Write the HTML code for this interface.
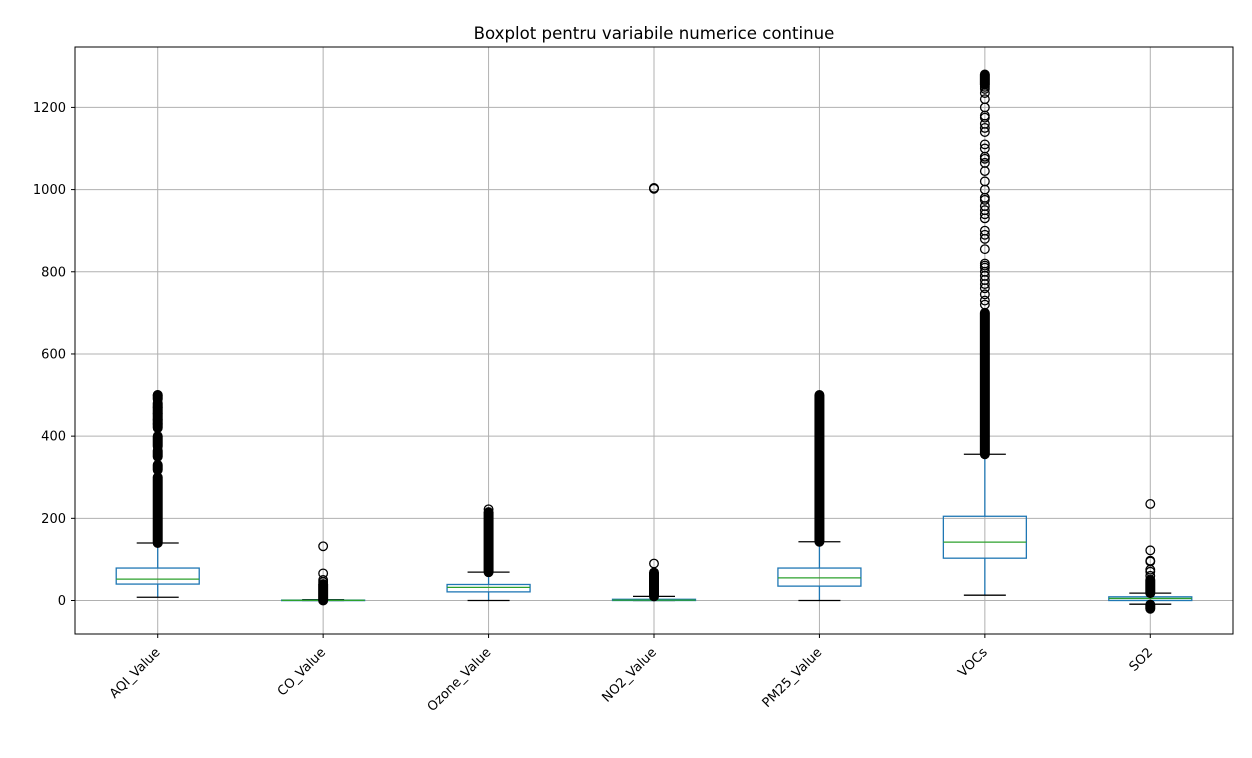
<!DOCTYPE html>
<html><head><meta charset="utf-8"><style>
body{margin:0;background:#fff;}
svg{display:block;font-family:"DejaVu Sans","Liberation Sans",sans-serif;}
</style></head><body>
<svg id="chart" width="1252" height="758"></svg>
<script>
const categories=["AQI_Value","CO_Value","Ozone_Value","NO2_Value","PM25_Value","VOCs","SO2"];
const q1=[40,0,21,0,35,103,0];
const medians=[52,0.5,32,1,55,142,5];
const q3=[79,1,39,3,79,205,9];
const whiskLow=[8,0,0,0,0,13,-9];
const whiskHigh=[140,2,69,10,143,356,18];
const denseOutliers=[
 [[140,300],[318,330],[350,365],[375,400],[420,480],[490,500]],
 [[0,40]],
 [[69,215]],
 [[10,68]],
 [[143,500]],
 [[356,700],[1255,1280]],
 [[18,50],[-20,-10]]
];
const sparseOutliers=[
 [500,470,455,440,430],
 [45,50,66,132],
 [222],
 [90,1002,1003,1004],
 [],
 [720,730,745,760,770,780,790,800,810,815,820,855,880,890,900,930,940,950,960,975,980,1000,1020,1045,1065,1075,1080,1100,1110,1140,1150,1160,1175,1180,1200,1220,1235,1245,1250],
 [60,70,75,95,97,122,235]
];
const yTicks=[0,200,400,600,800,1000,1200];

const NS="http://www.w3.org/2000/svg";
const svg=document.getElementById('chart');
const L=75,R=1233,T=47,B=634;
const yMin=-81.5,yMax=1347;
function y(v){return B-(v-yMin)/(yMax-yMin)*(B-T);}
function x(i){return L+(i+0.5)*(R-L)/categories.length;}
function el(tag,attrs,parent){const e=document.createElementNS(NS,tag);for(const k in attrs)e.setAttribute(k,attrs[k]);(parent||svg).appendChild(e);return e;}

const grid=el('g',{});


yTicks.forEach(t=>{
 const ln=el('line',{x1:L,x2:R,y1:y(t),y2:y(t),stroke:'#b0b0b0','stroke-width':1},grid);
 
 
 el('line',{x1:L-4,x2:L,y1:y(t),y2:y(t),stroke:'#000'},grid);
 const tx=el('text',{x:L-9,y:y(t)+4.5,'text-anchor':'end','font-size':13,fill:'#000'},grid);
 tx.textContent=t;
 
 
});
categories.forEach((c,i)=>{
 const ln=el('line',{x1:x(i),x2:x(i),y1:T,y2:B,stroke:'#b0b0b0','stroke-width':1},grid);
 
 
 el('line',{x1:x(i),x2:x(i),y1:B,y2:B+4,stroke:'#000'},grid);
 const tx=el('text',{x:0,y:0,'text-anchor':'end','font-size':13,fill:'#000',transform:`translate(${x(i)+3},${B+19}) rotate(-45)`},grid);
 tx.textContent=c;
 
 
});

const bw=83;
categories.forEach((c,i)=>{
 const g=el('g',{});
 
 
 const cx=x(i);
 el('line',{x1:cx,x2:cx,y1:y(q3[i]),y2:y(whiskHigh[i]),stroke:'#1f77b4','stroke-width':1.3},g);
 el('line',{x1:cx,x2:cx,y1:y(q1[i]),y2:y(whiskLow[i]),stroke:'#1f77b4','stroke-width':1.3},g);
 el('line',{x1:cx-21,x2:cx+21,y1:y(whiskHigh[i]),y2:y(whiskHigh[i]),stroke:'#000','stroke-width':1.3},g);
 el('line',{x1:cx-21,x2:cx+21,y1:y(whiskLow[i]),y2:y(whiskLow[i]),stroke:'#000','stroke-width':1.3},g);
 el('rect',{x:cx-bw/2,y:y(q3[i]),width:bw,height:Math.max(0.5,y(q1[i])-y(q3[i])),fill:'none',stroke:'#1f77b4','stroke-width':1.3},g);
 el('line',{x1:cx-bw/2,x2:cx+bw/2,y1:y(medians[i]),y2:y(medians[i]),stroke:'#2ca02c','stroke-width':1.3},g);
 denseOutliers[i].forEach(r=>{
  const top=y(r[1]),bot=y(r[0]);
  el('rect',{x:cx-5,y:top-5,width:10,height:bot-top+10,rx:5,ry:5,fill:'#000'},g);
 });
 sparseOutliers[i].forEach(v=>{
  const ci=el('circle',{cx:cx,cy:y(v),r:4.3,fill:'none',stroke:'#000','stroke-width':1.3},g);
  
  
 });
});

const frame=el('rect',{x:L,y:T,width:R-L,height:B-T,fill:'none',stroke:'#000','stroke-width':1});


const title=el('text',{x:(L+R)/2,y:39,'text-anchor':'middle','font-size':16.6,fill:'#000'});
title.textContent='Boxplot pentru variabile numerice continue';


</script>
</body></html>
